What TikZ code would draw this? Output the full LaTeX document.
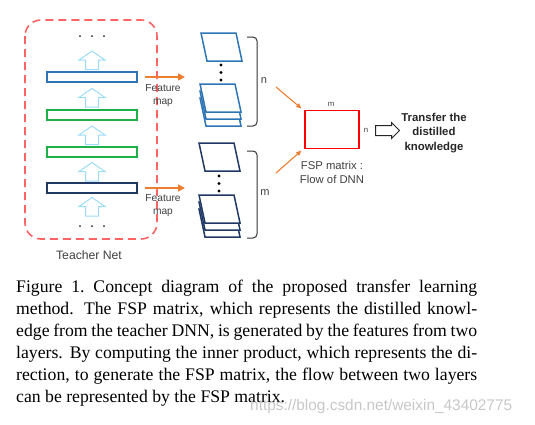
\documentclass[tikz,border=0pt]{standalone}
\usepackage{fontspec}
\setmainfont{Liberation Serif}
\setsansfont{Liberation Sans}
\usetikzlibrary{arrows.meta,shapes.arrows}
\definecolor{lyrblue}{HTML}{2E75B6}
\definecolor{lyrgreen}{HTML}{1FB04A}
\definecolor{lyrnavy}{HTML}{203864}
\definecolor{upblue}{HTML}{9DDCF9}
\definecolor{fmorange}{HTML}{ED7D31}
\definecolor{dashred}{HTML}{FF6464}
\definecolor{lblgray}{HTML}{404040}
\tikzset{
  bar/.style={draw, fill=white, line width=1.3pt, minimum width=90pt, minimum height=10pt, inner sep=0pt},
  uparrow/.pic={\draw[upblue, line width=1pt, fill=white] (-6.5,0) -- (-6.5,-9.5) -- (-13,-9.5) -- (0,-18.5) -- (13,-9.5) -- (6.5,-9.5) -- (6.5,0) -- cycle;},
  sheet/.pic={\draw[fill=white, line width=1.5pt, line join=miter, pic actions] (0,0) -- (35,0) -- (41,28) -- (6,28) -- cycle;},
  fmarrow/.style={fmorange, line width=1.6pt, -{Triangle[length=7pt,width=7pt]}},
  fsparrow/.style={fmorange, line width=1.1pt, -{Triangle[length=5pt,width=4.5pt]}},
  lbl/.style={font=\sffamily\fontsize{10.2}{12.5}\selectfont, text=lblgray, align=center, inner sep=0pt},
  smalllbl/.style={font=\sffamily\fontsize{7.8}{9}\selectfont, text=lblgray, inner sep=0pt},
  bracelbl/.style={font=\sffamily\fontsize{11}{13}\selectfont, text=lblgray, inner sep=0pt},
  bracket/.style={draw=black!80, line width=1pt, rounded corners=4pt},
  dot/.style={circle, fill=black, inner sep=0pt, minimum size=3.4pt},
  smalldot/.style={circle, fill=black!85, inner sep=0pt, minimum size=2pt},
}
\begin{document}
\begin{tikzpicture}[x=1pt,y=-1pt]
\useasboundingbox (0,0) rectangle (535,424);
% teacher net box
\draw[dashred, line width=1.6pt, dash pattern=on 8pt off 5pt, rounded corners=16pt] (25,20) rectangle (157,239);
\node[lbl, font=\sffamily\fontsize{12.2}{14}\selectfont] (tn) at (89,255) {Teacher Net};
% dots
\node[smalldot] (td1) at (80,36) {};
\node[smalldot] (td2) at (92,36) {};
\node[smalldot] (td3) at (104,36) {};
\node[smalldot] (bd1) at (80,226) {};
\node[smalldot] (bd2) at (92,226) {};
\node[smalldot] (bd3) at (104,226) {};
% up arrows
\pic at (92,69.5) {uparrow};
\pic at (92,107) {uparrow};
\pic at (92,144.5) {uparrow};
\pic at (92,181) {uparrow};
\pic at (92,216) {uparrow};
% layers
\node[bar, draw=lyrblue] (L1) at (92,77) {};
\node[bar, draw=lyrgreen] (L2) at (92,115) {};
\node[bar, draw=lyrgreen] (L3) at (92,152) {};
\node[bar, draw=lyrnavy] (L4) at (92,188) {};
% feature map arrows
\coordinate (S1w) at (185,77);
\coordinate (S2w) at (185,188);
\draw[fmarrow] ([xshift=7pt]L1.east) -- (S1w);
\draw[fmarrow] ([xshift=7pt]L4.east) -- (S2w);
\node[lbl] (fm1) at (163,95.5) {Feature\\map};
\node[lbl] (fm2) at (163,205.5) {Feature\\map};
% top stack (blue)
\pic[draw=lyrblue] at (201,33) {sheet};
\node[dot] (sd1) at (221,65) {};
\node[dot] (sd2) at (221,72.5) {};
\node[dot] (sd3) at (221,80) {};
\pic[draw=lyrblue] at (200,98) {sheet};
\pic[draw=lyrblue] at (200,91) {sheet};
\pic[draw=lyrblue] at (200,84) {sheet};
\draw[bracket] (247,37) -- (257,37) -- (257,126) -- (247,126);
\node[bracelbl] (nlab) at (264,81) {n};
% bottom stack (navy)
\pic[draw=lyrnavy] at (199,143) {sheet};
\node[dot] (sd4) at (219,176) {};
\node[dot] (sd5) at (219,183.5) {};
\node[dot] (sd6) at (219,191) {};
\pic[draw=lyrnavy] at (199,209) {sheet};
\pic[draw=lyrnavy] at (199,202) {sheet};
\pic[draw=lyrnavy] at (199,195) {sheet};
\draw[bracket] (247,151) -- (257,151) -- (257,238) -- (247,238);
\node[bracelbl] (mlab) at (265,193) {m};
% FSP matrix
\node[draw=red, line width=1.4pt, minimum width=54pt, minimum height=38pt, inner sep=0pt] (fsp) at (332,129.5) {};
\coordinate (nout) at (276,87);
\coordinate (mout) at (276,173);
\draw[fsparrow] (nout) -- ([xshift=-3pt,yshift=1.5pt]fsp.north west);
\draw[fsparrow] (mout) -- ([xshift=-3pt,yshift=-1.5pt]fsp.south west);
\node[smalllbl] (fm) at (331,104) {m};
\node[smalllbl] (fn) at (366,130.5) {n};
\node[lbl, font=\sffamily\fontsize{11.3}{14}\selectfont] (fsplbl) at (332,172) {FSP matrix :\\Flow of DNN};
% transfer arrow
\node[single arrow, draw=black!85, line width=1pt, fill=white, minimum height=24pt, minimum width=15pt, single arrow head extend=3pt, inner sep=4.5pt, shape border rotate=0] (tarr) at (385,130.5) {};
\node[lbl, text=black!85, font=\sffamily\bfseries\fontsize{11.4}{14.5}\selectfont] (tk) at (434,133) {Transfer the\\distilled\\knowledge};
% caption
\node[anchor=north west, inner sep=0pt, text width=461pt, align=justify, font=\fontsize{17.7}{22}\selectfont] (cap) at (16,279.6) {\tolerance=10000\hbadness=10000\hyphenpenalty=10000
Figure 1.\ Concept diagram of the proposed transfer learning\linebreak
method.  The FSP matrix, which represents the distilled knowl-\linebreak
edge from the teacher DNN, is generated by the features from two\linebreak
layers.  By computing the inner product, which represents the di-\linebreak
rection, to generate the FSP matrix, the flow between two layers\linebreak
can be represented by the FSP matrix.};
\node[anchor=base west, inner sep=0pt, font=\sffamily\fontsize{15.4}{18}\selectfont, text=black!22] (wm) at (250,410) {https://blog.csdn.net/weixin\_43402775};
\end{tikzpicture}
\end{document}
